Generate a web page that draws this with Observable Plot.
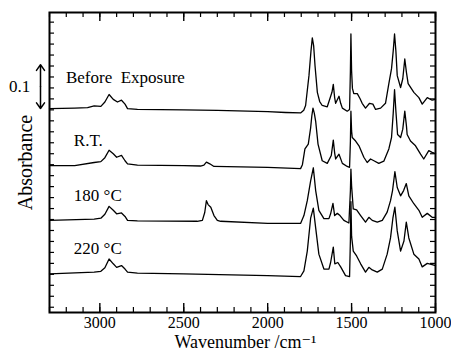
<!DOCTYPE html>
<html>
<head>
<meta charset="utf-8">
<script src="https://cdn.jsdelivr.net/npm/d3@7"></script>
<script src="https://cdn.jsdelivr.net/npm/@observablehq/plot@0.6"></script>
<style>
  html, body { margin: 0; padding: 0; background: #fff; }
  #chart { width: 451px; height: 356px; }
  #chart svg text { font-family: "Liberation Serif", "DejaVu Serif", serif; }
</style>
</head>
<body>
<div id="chart"></div>
<script>
// Trace labels and vertical offsets (absorbance units)
const labels = ["Before\u00a0\u00a0Exposure", "R.T.", "180 \u00b0C", "220 \u00b0C"];
const offsets = [0.453, 0.323, 0.198, 0.076];

// Before Exposure
const wnBefore = [3300,3150,3073,3034,2994,2970,2945,2920,2895,2871,2850,2835,2776,2500,2299,2000,1893,1804,1785,1774,1754,1742,1734,1726,1718,1704,1690,1675,1645,1629,1617,1609,1601,1595,1575,1565,1555,1526,1512,1507,1504,1500,1495,1487,1466,1450,1437,1417,1393,1373,1357,1327,1298,1278,1262,1252,1244,1236,1228,1208,1195,1183,1173,1163,1129,1099,1079,1049,1020,1000];
const absBefore = [0,0.001,0.002,0.006,0.005,0.015,0.032,0.021,0.015,0.019,0.010,0.000,-0.002,-0.003,-0.004,-0.007,-0.009,-0.010,-0.004,0.007,0.075,0.131,0.161,0.143,0.098,0.037,0.016,0.007,0.004,0.023,0.037,0.055,0.025,0.012,0.028,0.012,0.001,-0.006,-0.002,0.086,0.170,0.086,0.046,0.034,0.034,0.023,0.012,0.001,0.012,0.010,-0.002,0.001,0.012,0.057,0.091,0.131,0.170,0.131,0.075,0.048,0.068,0.113,0.082,0.057,0.037,0.025,0.010,0.025,0.019,0.021];

// R.T.
const wnRT = [3300,3150,3034,2994,2970,2945,2920,2900,2871,2850,2835,2776,2500,2400,2380,2365,2345,2320,2000,1804,1793,1778,1758,1744,1737,1730,1722,1714,1700,1675,1645,1621,1609,1601,1595,1575,1555,1526,1512,1507,1504,1500,1496,1476,1456,1427,1407,1387,1367,1338,1308,1278,1262,1252,1244,1236,1226,1208,1195,1183,1173,1169,1149,1119,1089,1070,1040,1020,1000];
const absRT = [0,0,0.007,0.009,0.018,0.035,0.027,0.019,0.023,0.011,0.004,0.001,0,-0.001,0.001,0.008,0.004,-0.002,-0.004,-0.007,0.002,0.038,0.049,0.086,0.113,0.131,0.119,0.101,0.049,0.011,0.005,0.023,0.058,0.029,0.015,0.026,0.005,-0.002,-0.004,0.056,0.124,0.079,0.064,0.056,0.045,0.019,0.007,0.015,0.011,0.005,0.010,0.038,0.064,0.119,0.173,0.124,0.071,0.064,0.083,0.124,0.090,0.071,0.056,0.045,0.026,0.015,0.034,0.030,0.027];

// 180 °C
const wn180 = [3300,3034,2994,2970,2945,2920,2900,2871,2850,2835,2776,2420,2389,2375,2365,2355,2339,2320,2300,2280,2000,1804,1784,1764,1744,1728,1714,1695,1665,1635,1625,1611,1601,1585,1569,1546,1516,1507,1504,1500,1490,1470,1446,1417,1397,1377,1347,1317,1288,1268,1256,1242,1228,1208,1190,1174,1159,1129,1099,1079,1049,1020,1000];
const abs180 = [0,0.003,0.005,0.014,0.032,0.023,0.015,0.017,0.009,0,-0.001,-0.002,0,0.018,0.045,0.036,0.030,0.011,0,-0.002,-0.007,-0.007,0.011,0.045,0.090,0.120,0.068,0.023,0.004,0.004,0.015,0.039,0.011,0.016,0.011,0,-0.006,0.068,0.117,0.079,0.026,0.024,0.011,-0.004,0.007,0,-0.004,0,0.019,0.045,0.068,0.111,0.075,0.056,0.068,0.084,0.056,0.038,0.023,0.007,0.016,0.007,0.007];

// 220 °C
const wn220 = [3300,3034,2994,2970,2945,2920,2900,2871,2850,2835,2776,2500,2000,1804,1784,1764,1744,1728,1714,1695,1665,1635,1625,1609,1600,1582,1565,1536,1512,1507,1504,1500,1490,1470,1446,1417,1397,1377,1347,1317,1288,1268,1254,1242,1228,1208,1188,1174,1159,1129,1099,1079,1049,1020,1000];
const abs220 = [0,0.004,0.006,0.014,0.034,0.023,0.015,0.019,0.011,0.004,0.002,0,-0.004,-0.006,0.007,0.052,0.127,0.150,0.105,0.045,0.011,0.011,0.026,0.061,0.023,0.026,0.016,-0.004,-0.006,0.079,0.165,0.086,0.052,0.041,0.023,0.004,0.015,0.009,0.004,0.011,0.045,0.082,0.127,0.152,0.098,0.052,0.075,0.118,0.082,0.045,0.034,0.016,0.024,0.021,0.019];

// Axis ticks
const xTickLabels = [3000, 2500, 2000, 1500, 1000];
const xMinorTicks = d3.range(1000, 3301, 100);
const yTicks = d3.range(0, 0.651, 0.025);
const scaleBarValue = 0.1;
const scaleBarLabel = "0.1";
const xTitle = "Wavenumber /cm\u207B\u00B9";
const yTitle = "Absorbance";

const traces = [
  {wn: wnBefore, a: absBefore},
  {wn: wnRT, a: absRT},
  {wn: wn180, a: abs180},
  {wn: wn220, a: abs220}
];
const data = traces.flatMap((t, i) =>
  t.wn.map((w, j) => ({series: labels[i], wn: w, y: t.a[j] + offsets[i]}))
);

const W = 451, H = 356;
const mL = 49, mR = 16, mT = 12, mB = 44;
const innerW = W - mL - mR, innerH = H - mT - mB;
const font = "'Liberation Serif', 'DejaVu Serif', serif";
const xLeft = 3300, xRight = 1000;

const labelData = labels.map((l, i) => ({
  text: l,
  x: i === 0 ? 3202 : 3155,
  y: offsets[i] + (i === 0 ? 0.071 : 0.057)
}));

const chart = Plot.plot({
  width: W, height: H,
  marginLeft: mL, marginRight: mR, marginTop: mT, marginBottom: mB,
  x: {domain: [xLeft, xRight], axis: null},
  y: {domain: [-0.012, 0.672], axis: null},
  style: {fontFamily: font, background: "white", color: "black"},
  marks: [
    // inward ticks
    Plot.tickX(xMinorTicks, {x: d => d, insetTop: innerH - 5, stroke: "black", strokeWidth: 1.2}),
    Plot.tickX(xTickLabels, {x: d => d, insetTop: innerH - 9, stroke: "black", strokeWidth: 1.4}),
    Plot.tickX(xMinorTicks, {x: d => d, insetBottom: innerH - 5, stroke: "black", strokeWidth: 1.2}),
    Plot.tickX(xTickLabels, {x: d => d, insetBottom: innerH - 9, stroke: "black", strokeWidth: 1.4}),
    Plot.tickY(yTicks, {y: d => d, insetRight: innerW - 5, stroke: "black", strokeWidth: 1.2}),
    Plot.tickY(yTicks, {y: d => d, insetLeft: innerW - 5, stroke: "black", strokeWidth: 1.2}),
    // spectra
    Plot.line(data, {x: "wn", y: "y", z: "series", stroke: "black", strokeWidth: 1.3, curve: "linear"}),
    Plot.frame({stroke: "black", strokeWidth: 2}),
    // trace labels
    Plot.text(labelData, {x: "x", y: "y", text: "text", textAnchor: "start", fontSize: 17, fontFamily: font, fill: "black"}),
    // scale bar
    Plot.arrow([0], {x1: xLeft, x2: xLeft, y1: offsets[0] + scaleBarValue / 2, y2: offsets[0] + scaleBarValue, dx: -9, headLength: 7, headAngle: 70, stroke: "black", strokeWidth: 1.5}),
    Plot.arrow([0], {x1: xLeft, x2: xLeft, y1: offsets[0] + scaleBarValue / 2, y2: offsets[0], dx: -9, headLength: 7, headAngle: 70, stroke: "black", strokeWidth: 1.5}),
    Plot.text([scaleBarLabel], {frameAnchor: "left", y: offsets[0] + scaleBarValue / 2, dx: -30, textAnchor: "middle", fontSize: 17, fontFamily: font, fill: "black"}),
    // axis tick labels
    Plot.axisX(xTickLabels, {anchor: "bottom", tickSize: 0, tickPadding: 4, fontSize: 16, fontFamily: font, tickFormat: d => String(d), fill: "black"}),
    // axis titles
    Plot.text([xTitle], {frameAnchor: "bottom", dy: 35, dx: 3, fontSize: 18, fontFamily: font, fill: "black"}),
    Plot.text([yTitle], {frameAnchor: "left", textAnchor: "middle", dx: -24, dy: 0, rotate: -90, fontSize: 20, fontFamily: font, fill: "black"})
  ]
});
document.getElementById("chart").appendChild(chart);
</script>
</body>
</html>
